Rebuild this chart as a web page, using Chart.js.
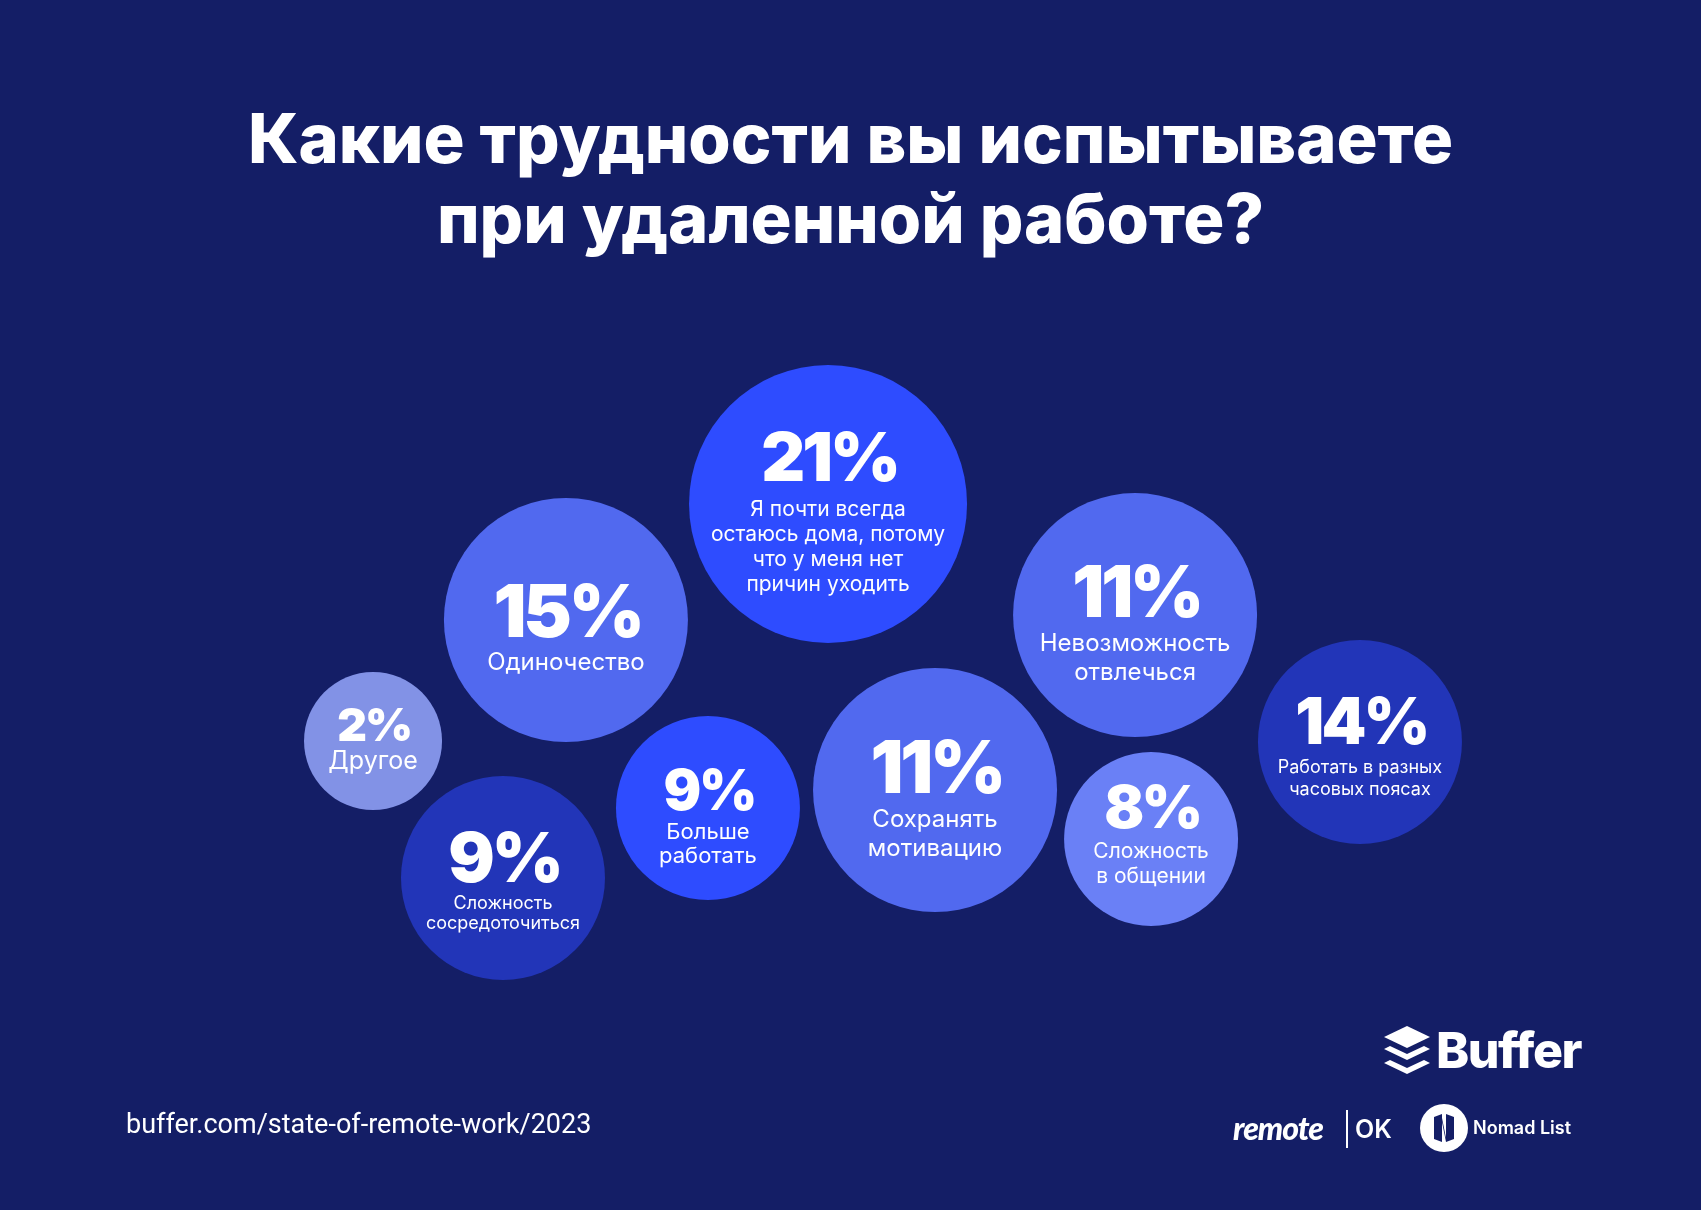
<!DOCTYPE html>
<html><head><meta charset="utf-8">
<script src="https://cdn.jsdelivr.net/npm/chart.js@4.4.1/dist/chart.umd.min.js"></script>
<style>
html,body{margin:0;padding:0;background:#141e66;width:1701px;height:1210px;overflow:hidden;}
#c{position:absolute;left:0;top:0;}
.t{position:absolute;color:#fff;white-space:nowrap;}
#title{left:0;top:99px;width:1701px;text-align:center;font-family:Inter;font-weight:800;font-size:68.5px;line-height:80px;}
#url{left:126px;top:1104px;height:40px;line-height:40px;font-family:Roboto;font-weight:400;font-size:27px;}
#buffer{left:1436px;top:1020px;height:60px;line-height:60px;font-family:Inter;font-weight:800;font-size:50px;letter-spacing:-1.5px;}
#remote{left:1233px;top:1108px;height:40px;line-height:40px;font-family:Lato;font-weight:900;font-style:italic;font-size:32px;letter-spacing:-1px;}
#bar{position:absolute;left:1346px;top:1110px;width:2px;height:38px;background:#fff;}
#ok{left:1355px;top:1110px;height:38px;line-height:38px;font-family:Inter;font-weight:600;font-size:25px;}
#nomad{left:1473px;top:1114px;height:28px;line-height:28px;font-family:Inter;font-weight:600;font-size:18px;}
svg{position:absolute;}
</style></head>
<body>
<canvas id="c" width="1701" height="1210"></canvas>
<div class="t" id="title">Какие трудности вы испытываете<br>при удаленной работе?</div>
<div class="t" id="url">buffer.com/state-of-remote-work/2023</div>
<svg style="left:1384px;top:1026px" width="46" height="50" viewBox="0 0 46 50">
  <polygon points="23,0 46,11 23,22 0,11" fill="#fff"/>
  <polygon points="0,23 6,20 23,28 40,20 46,23 23,34" fill="#fff"/>
  <polygon points="0,37 6,34 23,42 40,34 46,37 23,48" fill="#fff"/>
</svg>
<div class="t" id="buffer">Buffer</div>
<div class="t" id="remote">remote</div>
<div id="bar"></div>
<div class="t" id="ok">OK</div>
<svg style="left:1420px;top:1104px" width="48" height="48" viewBox="0 0 48 48">
  <circle cx="24" cy="24" r="24" fill="#fff"/>
  <path d="M14 13 L22 10 L22 38 L14 35 Z M26 10 L34 13 L34 35 L26 38 Z M22 14 L26 34 L26 38 L22 18 Z" fill="#141e66"/>
</svg>
<div class="t" id="nomad">Nomad List</div>
<script>
// ---- data ----
const percents = [21, 15, 11, 14, 2, 9, 9, 11, 8];
const labels = [
  ["Я почти всегда", "остаюсь дома, потому", "что у меня нет", "причин уходить"],
  ["Одиночество"],
  ["Невозможность", "отвлечься"],
  ["Работать в разных", "часовых поясах"],
  ["Другое"],
  ["Сложность", "сосредоточиться"],
  ["Больше", "работать"],
  ["Сохранять", "мотивацию"],
  ["Сложность", "в общении"]
];
// bubble layout (data units on hidden 0-100 axes)
const xs = [48.68, 33.27, 66.73, 79.95, 21.93, 29.57, 41.62, 54.97, 67.67];
const ys = [58.35, 48.76, 49.17, 38.68, 38.76, 27.44, 33.22, 34.71, 30.66];
const sizes = [139, 122, 122, 102, 69, 102, 92, 122, 87];

// ---- styles ----
const colors = ["#2e4cff", "#5169ef", "#5169ef", "#2235b8", "#8292e6", "#2235b8", "#2e4cff", "#5169ef", "#6a80f6"];
const pctFont = [68, 73, 71, 64, 46, 69, 56, 73, 59];
const labFont = [21, 24, 24, 18, 25, 18, 22, 24, 21];
const pctDy = [-48, -10, -24, -21, -17, -21, -18, -24, -32];
const labDy = [6, 43, 29, 26, 21, 26, 25, 30, 13];
const lineH = [25, 0, 29, 22, 0, 20, 24, 29, 25];

const textPlugin = {
  id: 'bubbleText',
  afterDatasetsDraw(chart) {
    const ctx = chart.ctx;
    const meta = chart.getDatasetMeta(0);
    ctx.save();
    ctx.fillStyle = '#fff';
    ctx.textAlign = 'center';
    ctx.textBaseline = 'alphabetic';
    meta.data.forEach((el, i) => {
      const {x, y} = el.getProps(['x', 'y'], true);
      const ls = -0.045 * pctFont[i];
      ctx.font = '900 ' + pctFont[i] + 'px Inter';
      ctx.letterSpacing = ls + 'px';
      ctx.fillText(percents[i] + '%', x - ls / 2, y + pctDy[i] + pctFont[i] * 0.364);
      ctx.letterSpacing = '0px';
      ctx.font = '400 ' + labFont[i] + 'px Inter';
      labels[i].forEach((line, k) => {
        ctx.fillText(line, x, y + labDy[i] + k * lineH[i] + labFont[i] * 0.28);
      });
    });
    ctx.restore();
  }
};

new Chart(document.getElementById('c'), {
  type: 'bubble',
  data: {
    datasets: [{
      data: percents.map((p, i) => ({x: xs[i], y: ys[i], r: sizes[i]})),
      backgroundColor: colors,
      borderWidth: 0,
      hoverBorderWidth: 0
    }]
  },
  options: {
    responsive: false,
    animation: false,
    layout: {padding: 0, autoPadding: false},
    clip: false,
    plugins: {legend: {display: false}, tooltip: {enabled: false}},
    scales: {
      x: {display: false, min: 0, max: 100},
      y: {display: false, min: 0, max: 100}
    }
  },
  plugins: [textPlugin]
});
</script>
</body></html>
